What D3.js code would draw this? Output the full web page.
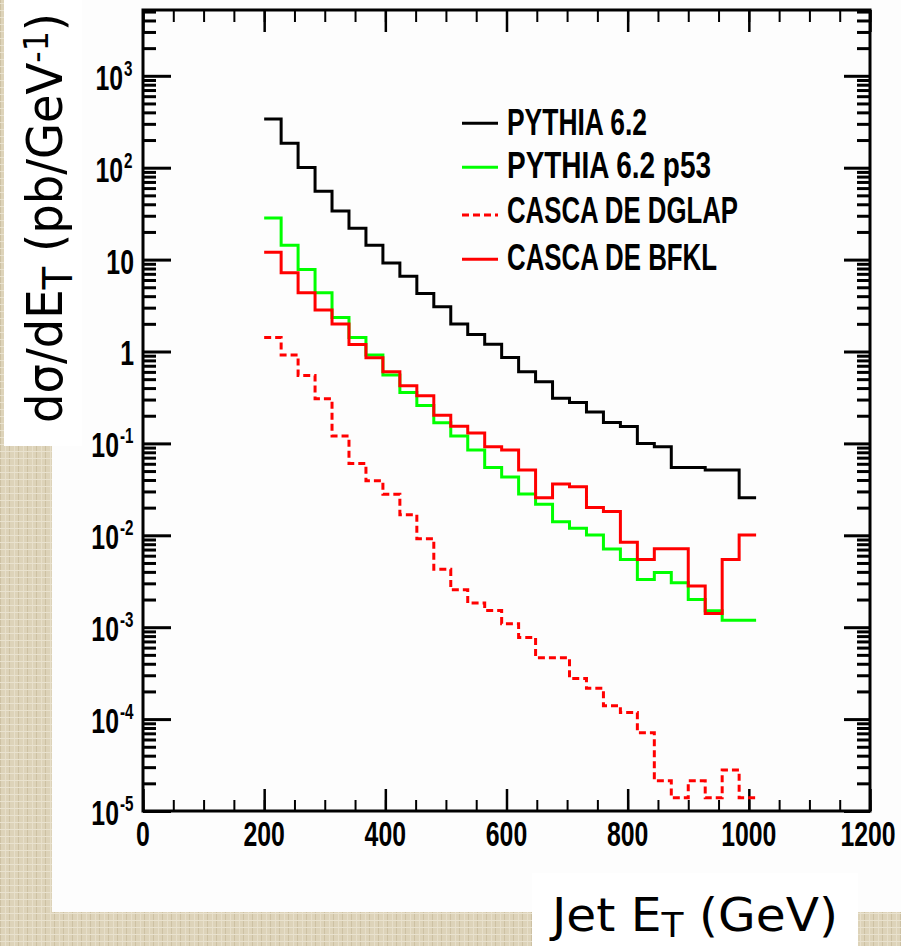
<!DOCTYPE html>
<html><head><meta charset="utf-8">
<script src="https://cdn.jsdelivr.net/npm/d3@7"></script>
<style>html,body{margin:0;padding:0;background:#ddd3b9;} svg{display:block}</style>
</head><body>
<svg id="c" width="901" height="946"></svg>
<script>
// ---- data ----
const binEdges = [200,228,256,284,312,340,368,396,424,452,480,508,536,564,592,620,648,676,704,732,760,788,816,844,872,900,928,956,984,1012];
const pythia = [338,184,100.7,55.6,33.7,22,14.3,9.2,6.6,4.28,3.06,1.99,1.53,1.20,0.863,0.601,0.468,0.309,0.279,0.219,0.169,0.153,0.100,0.0918,0.0548,0.0548,0.0512,0.0512,0.0256];
const pythiaP53 = [28.3,14.3,7.8,4.35,2.35,1.42,0.914,0.554,0.359,0.259,0.168,0.120,0.0846,0.0548,0.0430,0.0281,0.0218,0.0140,0.0119,0.01005,0.00708,0.00547,0.00331,0.00394,0.00304,0.00200,0.00151,0.00119,0.00119];
const cascadeDGLAP = [1.42,0.914,0.549,0.306,0.120,0.0606,0.0392,0.0279,0.0167,0.00917,0.00426,0.00255,0.00183,0.00152,0.00109,0.000774,0.000465,0.000465,0.000277,0.000216,0.000140,0.000118,0.0000710,0.0000213,0.0000139,0.0000213,0.0000139,0.0000279,0.0000139];
const cascadeBFKL = [12.0,7.18,4.35,2.82,1.99,1.19,0.854,0.601,0.424,0.330,0.202,0.154,0.130,0.0918,0.0846,0.0512,0.0256,0.0361,0.0337,0.0201,0.0182,0.00838,0.00547,0.00713,0.00713,0.0028,0.00141,0.00547,0.01005];
const xTickLabels = [0,200,400,600,800,1000,1200];
const yTickExponents = [-5,-4,-3,-2,-1,0,1,2,3];
const legendLabels = ["PYTHIA 6.2","PYTHIA 6.2  p53","CASCA DE DGLAP","CASCA DE BFKL"];

// ---- setup ----
const svg = d3.select("#c");
const defs = svg.append("defs");
const pat = defs.append("pattern").attr("id","paper").attr("width",9).attr("height",7).attr("patternUnits","userSpaceOnUse");
pat.append("rect").attr("width",9).attr("height",7).attr("fill","#ddd3b9");
pat.append("rect").attr("x",0).attr("width",1).attr("height",7).attr("fill","#cdc1a3");
pat.append("rect").attr("x",5).attr("width",1).attr("height",7).attr("fill","#e7dfca");
pat.append("rect").attr("y",3).attr("width",9).attr("height",1).attr("fill","#e9e2cf");

svg.append("rect").attr("width",901).attr("height",946).attr("fill","url(#paper)");
svg.append("rect").attr("x",52).attr("y",0).attr("width",849).attr("height",912).attr("fill","#fdfdfd");
svg.append("rect").attr("x",4).attr("y",0).attr("width",78).attr("height",446).attr("fill","#ffffff");
svg.append("rect").attr("x",532).attr("y",873).attr("width",326).attr("height",73).attr("fill","#ffffff");

const X0=143, X1=870, Y0=811, Y1=10;
const x = d3.scaleLinear().domain([0,1200]).range([X0,X1]);
const y = d3.scaleLog().domain([1e-5,5200]).range([Y0,Y1]);

const xMinor = d3.range(0,1201,50);
const yMajor = yTickExponents.map(e=>Math.pow(10,e));
const yMinor = y.ticks().filter(v=>{const l=Math.log10(v);return Math.abs(l-Math.round(l))>1e-6;});

function styleAxis(g,w){g.select(".domain").remove();g.selectAll("line").attr("stroke","#000").attr("stroke-width",w);}

// bottom
svg.append("g").attr("transform",`translate(0,${Y0})`).call(d3.axisBottom(x).tickValues(xMinor).tickSize(-11).tickFormat("")).call(g=>styleAxis(g,2));
svg.append("g").attr("transform",`translate(0,${Y0})`).call(d3.axisBottom(x).tickValues(xTickLabels).tickSize(-22).tickFormat("")).call(g=>styleAxis(g,2.5));
// top
svg.append("g").attr("transform",`translate(0,${Y1})`).call(d3.axisTop(x).tickValues(xMinor).tickSize(-12).tickFormat("")).call(g=>styleAxis(g,2));
svg.append("g").attr("transform",`translate(0,${Y1})`).call(d3.axisTop(x).tickValues(xTickLabels).tickSize(-22).tickFormat("")).call(g=>styleAxis(g,2.5));
// left
svg.append("g").attr("transform",`translate(${X0},0)`).call(d3.axisLeft(y).tickValues(yMinor).tickSize(-13).tickFormat("")).call(g=>styleAxis(g,3));
svg.append("g").attr("transform",`translate(${X0},0)`).call(d3.axisLeft(y).tickValues(yMajor).tickSize(-28).tickFormat("")).call(g=>styleAxis(g,3));
// right
svg.append("g").attr("transform",`translate(${X1},0)`).call(d3.axisRight(y).tickValues(yMinor).tickSize(-13).tickFormat("")).call(g=>styleAxis(g,3));
svg.append("g").attr("transform",`translate(${X1},0)`).call(d3.axisRight(y).tickValues(yMajor).tickSize(-26).tickFormat("")).call(g=>styleAxis(g,3));

// frame
svg.append("rect").attr("x",X0).attr("y",Y1).attr("width",X1-X0).attr("height",Y0-Y1)
  .attr("fill","none").attr("stroke","#000").attr("stroke-width",3);

const tickFont = "'Liberation Sans', Arial, sans-serif";
const SX = 0.69; // horizontal condensing of the tick-label font
// x labels
svg.append("g").attr("transform",`scale(${SX},1)`).selectAll("text").data(xTickLabels).join("text")
  .attr("x",d=>(d===1200 ? x(d)-2 : x(d))/SX).attr("y",846).attr("text-anchor","middle")
  .attr("font-family",tickFont).attr("font-weight","bold").attr("font-size",36)
  .text(d=>d);

// y labels
const yl = svg.append("g").attr("transform",`scale(${SX},1)`)
  .attr("font-family",tickFont).attr("font-weight","bold");
yTickExponents.forEach(e=>{
  const ty = y(Math.pow(10,e)) + 14;
  if(e===0 || e===1){
    yl.append("text").attr("x",134/SX).attr("y",ty).attr("text-anchor","end").attr("font-size",36)
      .text(e===0?"1":"10");
  } else {
    const neg = e<0;
    const baseEnd = neg?119:123;
    yl.append("text").attr("x",baseEnd/SX).attr("y",ty).attr("text-anchor","end").attr("font-size",36).text("10");
    yl.append("text").attr("x",(baseEnd+1)/SX).attr("y",ty-14).attr("font-size",22).text(String(e));
  }
});

// series
const line = d3.line().x(d=>x(d[0])).y(d=>y(d[1])).curve(d3.curveStepAfter);
const pts = vals => binEdges.map((e,i)=>[e, vals[Math.min(i, vals.length-1)]]);
const series = [
  {vals:pythia, color:"#000000", dash:null},
  {vals:pythiaP53, color:"#00ff00", dash:null},
  {vals:cascadeDGLAP, color:"#ff0000", dash:"7,4"},
  {vals:cascadeBFKL, color:"#ff0000", dash:null}
];
svg.append("g").selectAll("path").data(series).join("path")
  .attr("d",s=>line(pts(s.vals))).attr("fill","none")
  .attr("stroke",s=>s.color).attr("stroke-width",3)
  .attr("stroke-dasharray",s=>s.dash);

// legend
const legY = [123.3,167.3,215,259.3];
const legBase = [135,178.3,223.3,270];
const legW = [140,204,231,210];
const lg = svg.append("g");
series.forEach((s,i)=>{
  lg.append("line").attr("x1",462).attr("x2",498).attr("y1",legY[i]).attr("y2",legY[i])
    .attr("stroke",s.color).attr("stroke-width",3).attr("stroke-dasharray",s.dash);
  lg.append("text").attr("x",507).attr("y",legBase[i])
    .attr("font-family",tickFont).attr("font-weight","bold").attr("font-size",37)
    .attr("textLength",legW[i]).attr("lengthAdjust","spacingAndGlyphs")
    .text(legendLabels[i]);
});

// axis titles
const titleFont = "'DejaVu Sans', 'Noto Sans', sans-serif";
const yt = svg.append("text").attr("transform","translate(62,423) rotate(-90)")
  .attr("font-family",titleFont).attr("font-size",50)
  .attr("textLength",410).attr("lengthAdjust","spacingAndGlyphs");
yt.append("tspan").text("dσ/dE");
yt.append("tspan").attr("dy",10).attr("font-size",40).text("T");
yt.append("tspan").attr("dy",-10).text(" (pb/GeV");
yt.append("tspan").attr("dy",-14).attr("font-size",34).text("-1");
yt.append("tspan").attr("dy",14).text(")");

const xt = svg.append("text").attr("x",552).attr("y",931)
  .attr("font-family",titleFont).attr("font-size",46)
  .attr("textLength",286).attr("lengthAdjust","spacingAndGlyphs");
xt.append("tspan").text("Jet E");
xt.append("tspan").attr("dy",6).attr("font-size",34).text("T");
xt.append("tspan").attr("dy",-6).text(" (GeV)");
</script>
</body></html>
